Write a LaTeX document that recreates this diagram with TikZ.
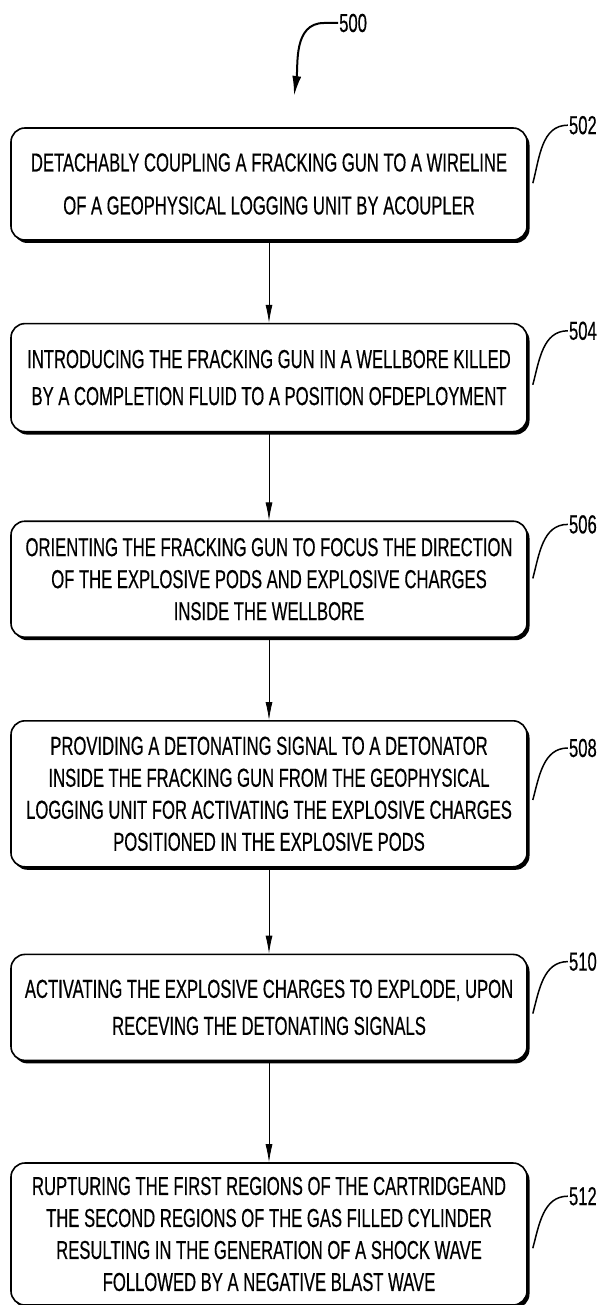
\documentclass[tikz,border=0pt]{standalone}
\usepackage{fontspec}
\newfontfamily\boxfont{Liberation Sans}[FakeStretch=0.64,FakeBold=0.4]
\usetikzlibrary{arrows.meta,positioning,shadows}

\begin{document}
\begin{tikzpicture}[x=1pt,y=1pt,>={Latex[length=18pt,width=7pt]}]
  \tikzstyle{stepbox} = [draw, line width=1.6pt, rounded corners=14pt, fill=white, align=center, minimum width=516pt, inner sep=0pt, font={\boxfont\fontsize{26}{32}\selectfont}, drop shadow={shadow xshift=2.5pt, shadow yshift=-3pt, fill=black, opacity=1}]
  \tikzstyle{wide} = [font={\boxfont\fontsize{26}{43}\selectfont}]
  \tikzstyle{twoline} = [font={\boxfont\fontsize{26}{37}\selectfont}]
  \tikzstyle{flow} = [black, line width=0.8pt, ->]
  \tikzstyle{refnum} = [font={\boxfont\fontsize{26}{26}\selectfont}, inner sep=1pt, anchor=west]
  \tikzstyle{leader} = [black, line width=1.5pt]

  \useasboundingbox (0,0) rectangle (601,-1305);

  % figure number
  \node[refnum] (t500) at (338,-23) {500};
  \coordinate (h500) at (294,-96);
  \draw[line width=2pt, -{Latex[length=20pt,width=9pt]}] (t500.west) -- ++(-14,0) to[out=180,in=82] (h500);

  % steps
  \node[stepbox, wide, minimum height=112pt] (b502) at (269,-184) {DETACHABLY COUPLING A FRACKING GUN TO A WIRELINE\\OF A GEOPHYSICAL LOGGING UNIT BY ACOUPLER};
  \node[stepbox, twoline, minimum height=108pt] (b504) [below=82pt of b502] {INTRODUCING THE FRACKING GUN IN A WELLBORE KILLED\\BY A COMPLETION FLUID TO A POSITION OFDEPLOYMENT};
  \node[stepbox, minimum height=116pt] (b506) [below=88pt of b504] {ORIENTING THE FRACKING GUN TO FOCUS THE DIRECTION\\OF THE EXPLOSIVE PODS AND EXPLOSIVE CHARGES\\INSIDE THE WELLBORE};
  \node[stepbox, minimum height=146pt] (b508) [below=82pt of b506] {PROVIDING A DETONATING SIGNAL TO A DETONATOR\\INSIDE THE FRACKING GUN FROM THE GEOPHYSICAL\\LOGGING UNIT FOR ACTIVATING THE EXPLOSIVE CHARGES\\POSITIONED IN THE EXPLOSIVE PODS};
  \node[stepbox, twoline, minimum height=106pt] (b510) [below=86pt of b508] {ACTIVATING THE EXPLOSIVE CHARGES TO EXPLODE, UPON\\RECEVING THE DETONATING SIGNALS};
  \node[stepbox, minimum height=142pt] (b512) [below=101pt of b510] {RUPTURING THE FIRST REGIONS OF THE CARTRIDGEAND\\THE SECOND REGIONS OF THE GAS FILLED CYLINDER\\RESULTING IN THE GENERATION OF A SHOCK WAVE\\FOLLOWED BY A NEGATIVE BLAST WAVE};

  \draw[flow] (b502) -- (b504);
  \draw[flow] (b504) -- (b506);
  \draw[flow] (b506) -- (b508);
  \draw[flow] (b508) -- (b510);
  \draw[flow] (b510) -- (b512);

  % reference numerals
  \node[refnum] (t502) at ([xshift=40pt,yshift=2pt]b502.north east) {502};
  \node[refnum] (t504) at ([xshift=40pt,yshift=-8pt]b504.north east) {504};
  \node[refnum] (t506) at ([xshift=40pt,yshift=-4pt]b506.north east) {506};
  \node[refnum] (t508) at ([xshift=40pt,yshift=-28pt]b508.north east) {508};
  \node[refnum] (t510) at ([xshift=40pt,yshift=-8pt]b510.north east) {510};
  \node[refnum] (t512) at ([xshift=40pt,yshift=-34pt]b512.north east) {512};

  \coordinate (e502) at ([xshift=5pt,yshift=-56pt]b502.north east);
  \coordinate (e504) at ([xshift=5pt,yshift=-62pt]b504.north east);
  \coordinate (e506) at ([xshift=5pt,yshift=-58pt]b506.north east);
  \coordinate (e508) at ([xshift=5pt,yshift=-80pt]b508.north east);
  \coordinate (e510) at ([xshift=5pt,yshift=-60pt]b510.north east);
  \coordinate (e512) at ([xshift=5pt,yshift=-86pt]b512.north east);

  \draw[leader] (e502) to[out=75,in=180] (t502.west);
  \draw[leader] (e504) to[out=75,in=180] (t504.west);
  \draw[leader] (e506) to[out=75,in=180] (t506.west);
  \draw[leader] (e508) to[out=75,in=180] (t508.west);
  \draw[leader] (e510) to[out=75,in=180] (t510.west);
  \draw[leader] (e512) to[out=75,in=180] (t512.west);
\end{tikzpicture}
\end{document}
